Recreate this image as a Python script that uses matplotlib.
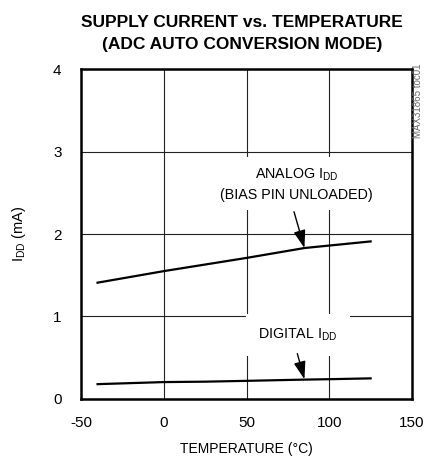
import matplotlib
matplotlib.use("Agg")
import matplotlib.pyplot as plt

plt.rcParams['font.family'] = ['Liberation Sans Narrow', 'Liberation Sans', 'DejaVu Sans']
plt.rcParams['mathtext.default'] = 'regular'
plt.rcParams['axes.unicode_minus'] = False

# ==============================================================================
# DATA
# ==============================================================================
temps   = [-40, 0, 25, 50, 85, 100, 125]
analog  = [1.41, 1.55, 1.63, 1.71, 1.83, 1.86, 1.91]
digital = [0.18, 0.205, 0.21, 0.22, 0.235, 0.24, 0.25]

x_ticks = [-50, 0, 50, 100, 150]
y_ticks = [0, 1, 2, 3, 4]

# ==============================================================================
# FIGURE
# ==============================================================================
fig = plt.figure(figsize=(4.25, 4.61), dpi=100)
ax = fig.add_axes([0.1906, 0.1345, 0.7788, 0.7158])

ax.plot(temps, analog, color='black', lw=1.6, zorder=2)
ax.plot(temps, digital, color='black', lw=1.6, zorder=2)

ax.set_xlim(-50, 150)
ax.set_ylim(0, 4)
ax.set_xticks(x_ticks)
ax.set_yticks(y_ticks)
ax.tick_params(length=0, labelsize=11, pad=12)
ax.tick_params(axis='y', pad=14)
ax.set_axisbelow(True)
ax.grid(True, color='#222222', lw=0.8)

for s in ax.spines.values():
    s.set_linewidth(1.8)

ax.set_xlabel("TEMPERATURE (°C)", fontsize=10, labelpad=9)
ax.set_ylabel("I$_{DD}$ (mA)", fontsize=10.5, labelpad=18)

# annotations with white boxes that break the grid
ax.text(80.3, 2.60, "ANALOG I$_{DD}$\n(BIAS PIN UNLOADED)", ha='center', va='center',
        fontsize=10.3, linespacing=1.45, zorder=3,
        bbox=dict(facecolor='white', edgecolor='none', pad=6))
ax.annotate("", xy=(85, 1.83), xytext=(78.7, 2.27),
            arrowprops=dict(arrowstyle="-|>,head_length=0.9,head_width=0.3",
                            color='black', lw=1.0, shrinkA=0, shrinkB=0,
                            mutation_scale=12), zorder=4)

ax.text(81.1, 0.775, "DIGITAL I$_{DD}$", ha='center', va='center',
        fontsize=10.3, zorder=3,
        bbox=dict(facecolor='white', edgecolor='none', pad=9))
ax.annotate("", xy=(85, 0.24), xytext=(80.7, 0.55),
            arrowprops=dict(arrowstyle="-|>,head_length=0.9,head_width=0.3",
                            color='black', lw=1.0, shrinkA=0, shrinkB=0,
                            mutation_scale=12), zorder=4)

fig.text(0.569, 0.9275, "SUPPLY CURRENT vs. TEMPERATURE\n(ADC AUTO CONVERSION MODE)",
         ha='center', va='center', fontsize=12.5, fontweight='bold', linespacing=1.65)

fig.text(0.984, 0.781, "MAX31865 toc01", rotation=90, ha='center', va='center',
         fontsize=7, color='#666666')

fig.savefig("out.png", dpi=100)
